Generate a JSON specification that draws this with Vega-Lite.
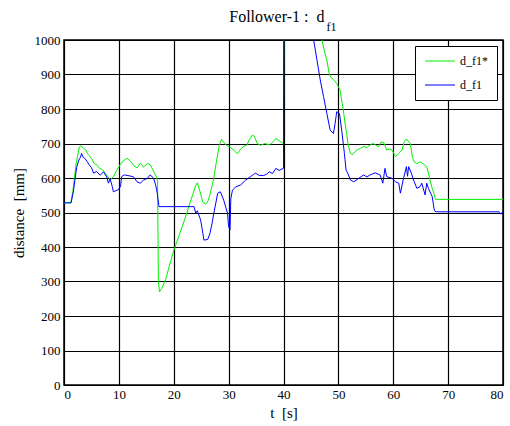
{
  "$schema": "https://vega.github.io/schema/vega-lite/v6.json",
  "autosize": {"type": "none"},
  "padding": {"left": 64, "top": 40, "right": 7, "bottom": 41},
  "width": 439,
  "height": 345,
  "title": {
    "text": "Follower-1 :\u00a0\u00a0d\u00a0\u00a0\u00a0\u200b",
    "subtitle": "f1",
    "anchor": "middle",
    "align": "right",
    "dx": 53,
    "font": "Liberation Serif",
    "fontSize": 16,
    "fontWeight": "normal",
    "color": "black",
    "subtitleFont": "Liberation Serif",
    "subtitleFontSize": 12,
    "subtitleColor": "black",
    "subtitlePadding": -3,
    "offset": 1
  },
  "config": {
    "font": "Liberation Serif",
    "view": {"stroke": "black", "strokeWidth": 1.5},
    "style": {
      "guide-label": {"font": "Liberation Serif", "fill": "black"},
      "guide-title": {"font": "Liberation Serif", "fill": "black"}
    },
    "axis": {
      "labelFont": "Liberation Serif",
      "labelFontSize": 13,
      "labelColor": "black",
      "titleFont": "Liberation Serif",
      "titleFontSize": 15,
      "titleFontWeight": "normal",
      "titleColor": "black",
      "domain": false,
      "ticks": false,
      "grid": true,
      "gridColor": "black",
      "gridWidth": 1.2,
      "gridOpacity": 1,
      "format": "d"
    },
    "legend": {
      "labelFont": "Liberation Serif",
      "labelFontSize": 12,
      "labelColor": "black"
    }
  },
  "data": {
    "values": [
      {"t": 0, "v": 528, "s": "d_f1*"}, {"t": 1.2, "v": 528, "s": "d_f1*"}, {"t": 1.6, "v": 560, "s": "d_f1*"}, {"t": 2.2, "v": 640, "s": "d_f1*"}, {"t": 2.8, "v": 690, "s": "d_f1*"}, {"t": 3.1, "v": 693, "s": "d_f1*"}, {"t": 3.6, "v": 686, "s": "d_f1*"}, {"t": 4.0, "v": 681, "s": "d_f1*"}, {"t": 4.3, "v": 670, "s": "d_f1*"}, {"t": 4.6, "v": 665, "s": "d_f1*"}, {"t": 5.2, "v": 652, "s": "d_f1*"}, {"t": 5.5, "v": 642, "s": "d_f1*"}, {"t": 6.0, "v": 638, "s": "d_f1*"}, {"t": 6.5, "v": 628, "s": "d_f1*"}, {"t": 7.0, "v": 624, "s": "d_f1*"}, {"t": 7.5, "v": 614, "s": "d_f1*"}, {"t": 8.2, "v": 600, "s": "d_f1*"}, {"t": 8.5, "v": 595, "s": "d_f1*"}, {"t": 9.0, "v": 604, "s": "d_f1*"}, {"t": 9.6, "v": 622, "s": "d_f1*"}, {"t": 10.2, "v": 638, "s": "d_f1*"}, {"t": 10.8, "v": 650, "s": "d_f1*"}, {"t": 11.5, "v": 657, "s": "d_f1*"}, {"t": 12.1, "v": 649, "s": "d_f1*"}, {"t": 12.7, "v": 636, "s": "d_f1*"}, {"t": 13.3, "v": 629, "s": "d_f1*"}, {"t": 13.9, "v": 643, "s": "d_f1*"}, {"t": 14.5, "v": 632, "s": "d_f1*"}, {"t": 15.2, "v": 642, "s": "d_f1*"}, {"t": 15.7, "v": 639, "s": "d_f1*"}, {"t": 16.3, "v": 620, "s": "d_f1*"}, {"t": 16.9, "v": 602, "s": "d_f1*"}, {"t": 17.05, "v": 590, "s": "d_f1*"}, {"t": 17.2, "v": 300, "s": "d_f1*"}, {"t": 17.4, "v": 270, "s": "d_f1*"}, {"t": 17.8, "v": 280, "s": "d_f1*"}, {"t": 18.5, "v": 305, "s": "d_f1*"}, {"t": 19.2, "v": 345, "s": "d_f1*"}, {"t": 20.0, "v": 390, "s": "d_f1*"}, {"t": 21.0, "v": 435, "s": "d_f1*"}, {"t": 22.0, "v": 480, "s": "d_f1*"}, {"t": 23.0, "v": 530, "s": "d_f1*"}, {"t": 24.0, "v": 578, "s": "d_f1*"}, {"t": 24.3, "v": 586, "s": "d_f1*"}, {"t": 24.8, "v": 560, "s": "d_f1*"}, {"t": 25.3, "v": 530, "s": "d_f1*"}, {"t": 25.8, "v": 524, "s": "d_f1*"}, {"t": 26.3, "v": 535, "s": "d_f1*"}, {"t": 26.8, "v": 565, "s": "d_f1*"}, {"t": 27.3, "v": 600, "s": "d_f1*"}, {"t": 27.8, "v": 650, "s": "d_f1*"}, {"t": 28.3, "v": 695, "s": "d_f1*"}, {"t": 28.7, "v": 712, "s": "d_f1*"}, {"t": 29.1, "v": 704, "s": "d_f1*"}, {"t": 29.5, "v": 696, "s": "d_f1*"}, {"t": 30.2, "v": 690, "s": "d_f1*"}, {"t": 31.0, "v": 680, "s": "d_f1*"}, {"t": 31.6, "v": 670, "s": "d_f1*"}, {"t": 32.2, "v": 684, "s": "d_f1*"}, {"t": 32.8, "v": 692, "s": "d_f1*"}, {"t": 33.3, "v": 695, "s": "d_f1*"}, {"t": 33.8, "v": 712, "s": "d_f1*"}, {"t": 34.3, "v": 724, "s": "d_f1*"}, {"t": 34.7, "v": 721, "s": "d_f1*"}, {"t": 35.2, "v": 700, "s": "d_f1*"}, {"t": 35.8, "v": 695, "s": "d_f1*"}, {"t": 36.6, "v": 700, "s": "d_f1*"}, {"t": 37.4, "v": 696, "s": "d_f1*"}, {"t": 38.0, "v": 703, "s": "d_f1*"}, {"t": 38.6, "v": 715, "s": "d_f1*"}, {"t": 39.2, "v": 708, "s": "d_f1*"}, {"t": 39.7, "v": 703, "s": "d_f1*"}, {"t": 40.0, "v": 700, "s": "d_f1*"}, {"t": 40.05, "v": 1100, "s": "d_f1*"}, {"t": 46.6, "v": 1060, "s": "d_f1*"}, {"t": 47.0, "v": 1000, "s": "d_f1*"}, {"t": 47.5, "v": 965, "s": "d_f1*"}, {"t": 47.9, "v": 942, "s": "d_f1*"}, {"t": 48.3, "v": 905, "s": "d_f1*"}, {"t": 48.6, "v": 892, "s": "d_f1*"}, {"t": 49.1, "v": 886, "s": "d_f1*"}, {"t": 49.7, "v": 874, "s": "d_f1*"}, {"t": 50.3, "v": 855, "s": "d_f1*"}, {"t": 50.6, "v": 825, "s": "d_f1*"}, {"t": 50.9, "v": 797, "s": "d_f1*"}, {"t": 51.2, "v": 760, "s": "d_f1*"}, {"t": 51.5, "v": 729, "s": "d_f1*"}, {"t": 51.8, "v": 695, "s": "d_f1*"}, {"t": 52.2, "v": 671, "s": "d_f1*"}, {"t": 52.6, "v": 668, "s": "d_f1*"}, {"t": 53.0, "v": 676, "s": "d_f1*"}, {"t": 53.4, "v": 681, "s": "d_f1*"}, {"t": 54.0, "v": 686, "s": "d_f1*"}, {"t": 54.6, "v": 691, "s": "d_f1*"}, {"t": 55.2, "v": 688, "s": "d_f1*"}, {"t": 55.8, "v": 696, "s": "d_f1*"}, {"t": 56.3, "v": 700, "s": "d_f1*"}, {"t": 56.8, "v": 696, "s": "d_f1*"}, {"t": 57.3, "v": 690, "s": "d_f1*"}, {"t": 57.8, "v": 705, "s": "d_f1*"}, {"t": 58.3, "v": 702, "s": "d_f1*"}, {"t": 58.8, "v": 681, "s": "d_f1*"}, {"t": 59.3, "v": 684, "s": "d_f1*"}, {"t": 59.8, "v": 681, "s": "d_f1*"}, {"t": 60.4, "v": 662, "s": "d_f1*"}, {"t": 61.0, "v": 671, "s": "d_f1*"}, {"t": 61.6, "v": 681, "s": "d_f1*"}, {"t": 62.0, "v": 705, "s": "d_f1*"}, {"t": 62.3, "v": 712, "s": "d_f1*"}, {"t": 62.7, "v": 708, "s": "d_f1*"}, {"t": 63.1, "v": 700, "s": "d_f1*"}, {"t": 63.5, "v": 660, "s": "d_f1*"}, {"t": 63.8, "v": 647, "s": "d_f1*"}, {"t": 64.3, "v": 642, "s": "d_f1*"}, {"t": 64.9, "v": 647, "s": "d_f1*"}, {"t": 65.5, "v": 640, "s": "d_f1*"}, {"t": 66.1, "v": 633, "s": "d_f1*"}, {"t": 66.4, "v": 615, "s": "d_f1*"}, {"t": 66.7, "v": 594, "s": "d_f1*"}, {"t": 67.1, "v": 570, "s": "d_f1*"}, {"t": 67.4, "v": 556, "s": "d_f1*"}, {"t": 67.7, "v": 538, "s": "d_f1*"}, {"t": 80, "v": 538, "s": "d_f1*"},
      {"t": 0, "v": 528, "s": "d_f1"}, {"t": 1.3, "v": 528, "s": "d_f1"}, {"t": 1.7, "v": 560, "s": "d_f1"}, {"t": 2.3, "v": 630, "s": "d_f1"}, {"t": 2.7, "v": 652, "s": "d_f1"}, {"t": 3.0, "v": 660, "s": "d_f1"}, {"t": 3.2, "v": 671, "s": "d_f1"}, {"t": 3.5, "v": 660, "s": "d_f1"}, {"t": 3.8, "v": 657, "s": "d_f1"}, {"t": 4.2, "v": 648, "s": "d_f1"}, {"t": 4.6, "v": 638, "s": "d_f1"}, {"t": 5.0, "v": 630, "s": "d_f1"}, {"t": 5.4, "v": 614, "s": "d_f1"}, {"t": 5.9, "v": 619, "s": "d_f1"}, {"t": 6.6, "v": 608, "s": "d_f1"}, {"t": 7.2, "v": 618, "s": "d_f1"}, {"t": 7.8, "v": 603, "s": "d_f1"}, {"t": 8.1, "v": 585, "s": "d_f1"}, {"t": 8.4, "v": 598, "s": "d_f1"}, {"t": 8.8, "v": 575, "s": "d_f1"}, {"t": 9.0, "v": 560, "s": "d_f1"}, {"t": 9.4, "v": 563, "s": "d_f1"}, {"t": 9.8, "v": 565, "s": "d_f1"}, {"t": 10.3, "v": 575, "s": "d_f1"}, {"t": 10.5, "v": 604, "s": "d_f1"}, {"t": 11.0, "v": 609, "s": "d_f1"}, {"t": 12.0, "v": 606, "s": "d_f1"}, {"t": 12.7, "v": 603, "s": "d_f1"}, {"t": 13.3, "v": 589, "s": "d_f1"}, {"t": 13.9, "v": 585, "s": "d_f1"}, {"t": 14.5, "v": 594, "s": "d_f1"}, {"t": 15.2, "v": 599, "s": "d_f1"}, {"t": 15.7, "v": 609, "s": "d_f1"}, {"t": 16.3, "v": 600, "s": "d_f1"}, {"t": 16.7, "v": 580, "s": "d_f1"}, {"t": 17.0, "v": 556, "s": "d_f1"}, {"t": 17.3, "v": 517, "s": "d_f1"}, {"t": 23.7, "v": 517, "s": "d_f1"}, {"t": 24.0, "v": 498, "s": "d_f1"}, {"t": 24.3, "v": 505, "s": "d_f1"}, {"t": 24.9, "v": 478, "s": "d_f1"}, {"t": 25.3, "v": 440, "s": "d_f1"}, {"t": 25.5, "v": 420, "s": "d_f1"}, {"t": 26.2, "v": 422, "s": "d_f1"}, {"t": 26.6, "v": 440, "s": "d_f1"}, {"t": 27.0, "v": 470, "s": "d_f1"}, {"t": 27.3, "v": 498, "s": "d_f1"}, {"t": 27.7, "v": 530, "s": "d_f1"}, {"t": 28.0, "v": 556, "s": "d_f1"}, {"t": 28.5, "v": 560, "s": "d_f1"}, {"t": 29.1, "v": 536, "s": "d_f1"}, {"t": 29.8, "v": 498, "s": "d_f1"}, {"t": 30.0, "v": 459, "s": "d_f1"}, {"t": 30.25, "v": 449, "s": "d_f1"}, {"t": 30.4, "v": 540, "s": "d_f1"}, {"t": 30.7, "v": 565, "s": "d_f1"}, {"t": 31.3, "v": 574, "s": "d_f1"}, {"t": 32.2, "v": 580, "s": "d_f1"}, {"t": 33.1, "v": 594, "s": "d_f1"}, {"t": 34.0, "v": 604, "s": "d_f1"}, {"t": 34.5, "v": 610, "s": "d_f1"}, {"t": 34.9, "v": 614, "s": "d_f1"}, {"t": 35.5, "v": 608, "s": "d_f1"}, {"t": 36.4, "v": 607, "s": "d_f1"}, {"t": 37.0, "v": 612, "s": "d_f1"}, {"t": 37.4, "v": 618, "s": "d_f1"}, {"t": 38.0, "v": 613, "s": "d_f1"}, {"t": 38.6, "v": 628, "s": "d_f1"}, {"t": 39.2, "v": 622, "s": "d_f1"}, {"t": 39.7, "v": 626, "s": "d_f1"}, {"t": 40.0, "v": 628, "s": "d_f1"}, {"t": 40.05, "v": 1100, "s": "d_f1"}, {"t": 45.0, "v": 1060, "s": "d_f1"}, {"t": 45.5, "v": 1000, "s": "d_f1"}, {"t": 46.1, "v": 942, "s": "d_f1"}, {"t": 46.7, "v": 884, "s": "d_f1"}, {"t": 47.3, "v": 836, "s": "d_f1"}, {"t": 47.9, "v": 787, "s": "d_f1"}, {"t": 48.5, "v": 739, "s": "d_f1"}, {"t": 49.1, "v": 729, "s": "d_f1"}, {"t": 49.4, "v": 758, "s": "d_f1"}, {"t": 49.7, "v": 792, "s": "d_f1"}, {"t": 50.2, "v": 787, "s": "d_f1"}, {"t": 50.6, "v": 739, "s": "d_f1"}, {"t": 51.1, "v": 671, "s": "d_f1"}, {"t": 51.4, "v": 623, "s": "d_f1"}, {"t": 51.7, "v": 614, "s": "d_f1"}, {"t": 52.2, "v": 594, "s": "d_f1"}, {"t": 52.8, "v": 589, "s": "d_f1"}, {"t": 53.7, "v": 599, "s": "d_f1"}, {"t": 54.6, "v": 609, "s": "d_f1"}, {"t": 55.2, "v": 603, "s": "d_f1"}, {"t": 55.8, "v": 609, "s": "d_f1"}, {"t": 56.7, "v": 615, "s": "d_f1"}, {"t": 57.6, "v": 609, "s": "d_f1"}, {"t": 58.1, "v": 585, "s": "d_f1"}, {"t": 58.5, "v": 628, "s": "d_f1"}, {"t": 58.8, "v": 604, "s": "d_f1"}, {"t": 59.8, "v": 599, "s": "d_f1"}, {"t": 60.4, "v": 589, "s": "d_f1"}, {"t": 61.0, "v": 585, "s": "d_f1"}, {"t": 61.3, "v": 556, "s": "d_f1"}, {"t": 61.8, "v": 594, "s": "d_f1"}, {"t": 62.4, "v": 633, "s": "d_f1"}, {"t": 62.6, "v": 605, "s": "d_f1"}, {"t": 62.8, "v": 633, "s": "d_f1"}, {"t": 63.3, "v": 614, "s": "d_f1"}, {"t": 63.7, "v": 594, "s": "d_f1"}, {"t": 64.3, "v": 570, "s": "d_f1"}, {"t": 64.9, "v": 575, "s": "d_f1"}, {"t": 65.2, "v": 585, "s": "d_f1"}, {"t": 65.8, "v": 551, "s": "d_f1"}, {"t": 66.1, "v": 585, "s": "d_f1"}, {"t": 66.4, "v": 570, "s": "d_f1"}, {"t": 67.1, "v": 546, "s": "d_f1"}, {"t": 67.5, "v": 505, "s": "d_f1"}, {"t": 67.8, "v": 502, "s": "d_f1"}, {"t": 79.3, "v": 502, "s": "d_f1"}, {"t": 79.6, "v": 495, "s": "d_f1"}, {"t": 79.8, "v": 500, "s": "d_f1"}, {"t": 80, "v": 500, "s": "d_f1"}
    ]
  },
  "mark": {"type": "line", "clip": true, "strokeWidth": 1, "interpolate": "linear"},
  "encoding": {
    "x": {
      "field": "t", "type": "quantitative",
      "scale": {"domain": [0, 80], "nice": false},
      "axis": {"values": [0, 10, 20, 30, 40, 50, 60, 70, 80], "title": "t\u00a0\u00a0[s]", "labelPadding": 3, "titlePadding": 4}
    },
    "y": {
      "field": "v", "type": "quantitative",
      "scale": {"domain": [0, 1000], "nice": false},
      "axis": {"values": [0, 100, 200, 300, 400, 500, 600, 700, 800, 900, 1000], "title": "distance\u00a0\u00a0[mm]", "labelPadding": 4, "titlePadding": 8}
    },
    "color": {
      "field": "s", "type": "nominal",
      "scale": {"domain": ["d_f1*", "d_f1"], "range": ["#00f000", "#0000ff"]},
      "legend": {
        "title": null,
        "orient": "top-right",
        "offset": 6,
        "strokeColor": "black",
        "fillColor": "white",
        "cornerRadius": 0,
        "padding": 9,
        "symbolType": "M-1,0H5",
        "symbolSize": 100,
        "symbolStrokeWidth": 1,
        "labelOffset": 24,
        "rowPadding": 12,
        "labelFont": "Liberation Serif"
      }
    },
    "order": {"field": "t", "type": "quantitative"}
  }
}
